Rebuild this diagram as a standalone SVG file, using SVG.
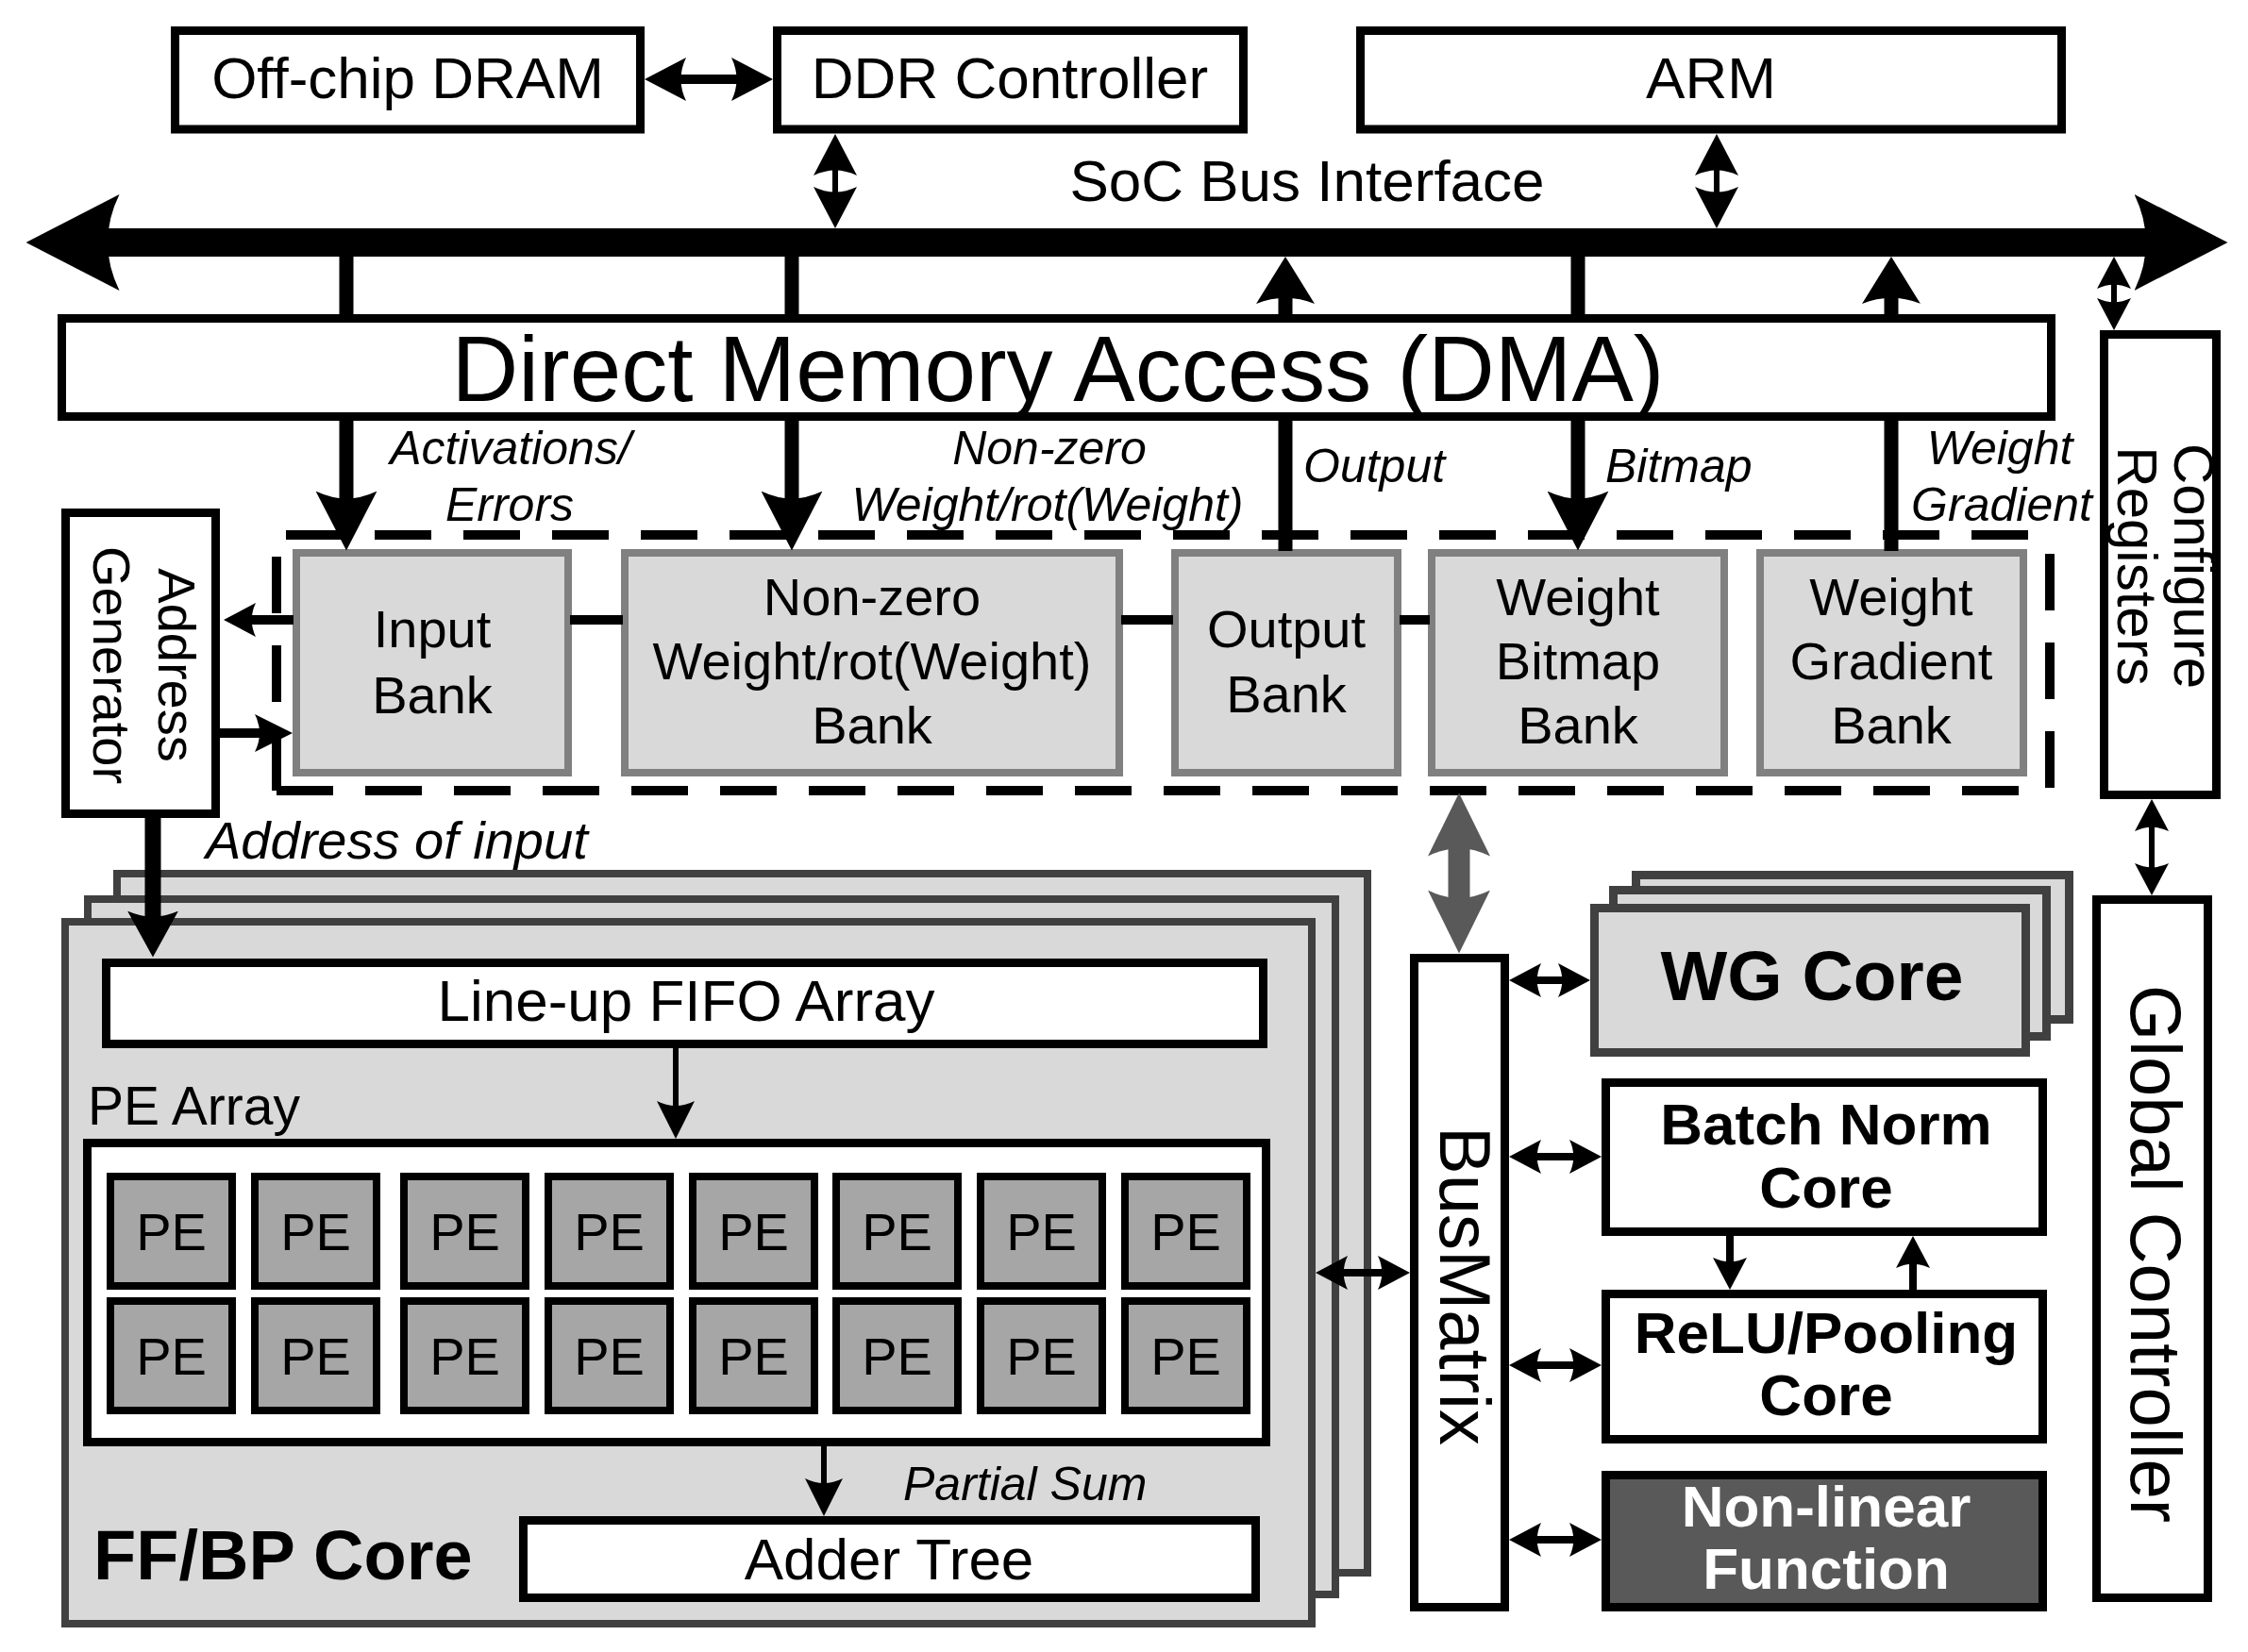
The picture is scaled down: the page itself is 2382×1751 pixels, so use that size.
<svg xmlns="http://www.w3.org/2000/svg" width="2382" height="1751" viewBox="0 0 2382 1751">
<style>
text{font-family:"Liberation Sans",Arial,sans-serif;fill:#000}
.t62{font-size:62px;text-anchor:middle}
.t56{font-size:56px;text-anchor:middle}
.lab{font-size:50px;font-style:italic}
.bold{font-weight:bold}
.box{fill:#fff;stroke:#000;stroke-width:9}
.bank{fill:#d9d9d9;stroke:#808080;stroke-width:8}
.stack{fill:#d9d9d9;stroke:#404040;stroke-width:8}
.pe{fill:#a6a6a6;stroke:#000;stroke-width:8}
.ln{stroke:#000;fill:none}
.dash{stroke:#000;stroke-width:10;fill:none;stroke-dasharray:60 34}
</style>
<defs>
<marker id="mBus" viewBox="0 0 10 10" refX="5" refY="5" markerUnits="userSpaceOnUse" markerWidth="99" markerHeight="102" preserveAspectRatio="none" orient="auto-start-reverse"><path d="M0,0 L10,5 L0,10 Q2.5,5 0,0 Z" fill="#000"/></marker>
<marker id="mA" viewBox="0 0 10 10" refX="5" refY="5" markerUnits="userSpaceOnUse" markerWidth="63" markerHeight="65" preserveAspectRatio="none" orient="auto-start-reverse"><path d="M0,0 L10,5 L0,10 Q2.5,5 0,0 Z" fill="#000"/></marker>
<marker id="mA2" viewBox="0 0 10 10" refX="5" refY="5" markerUnits="userSpaceOnUse" markerWidth="50" markerHeight="62" preserveAspectRatio="none" orient="auto-start-reverse"><path d="M0,0 L10,5 L0,10 Q2.5,5 0,0 Z" fill="#000"/></marker>
<marker id="mB" viewBox="0 0 10 10" refX="5" refY="5" markerUnits="userSpaceOnUse" markerWidth="44" markerHeight="46" preserveAspectRatio="none" orient="auto-start-reverse"><path d="M0,0 L10,5 L0,10 Q2.5,5 0,0 Z" fill="#000"/></marker>
<marker id="mD" viewBox="0 0 10 10" refX="5" refY="5" markerUnits="userSpaceOnUse" markerWidth="34" markerHeight="36" preserveAspectRatio="none" orient="auto-start-reverse"><path d="M0,0 L10,5 L0,10 Q2.5,5 0,0 Z" fill="#000"/></marker>
<marker id="mE" viewBox="0 0 10 10" refX="5" refY="5" markerUnits="userSpaceOnUse" markerWidth="49" markerHeight="54" preserveAspectRatio="none" orient="auto-start-reverse"><path d="M0,0 L10,5 L0,10 Q2.5,5 0,0 Z" fill="#000"/></marker>
<marker id="mF" viewBox="0 0 10 10" refX="5" refY="5" markerUnits="userSpaceOnUse" markerWidth="40" markerHeight="40" preserveAspectRatio="none" orient="auto-start-reverse"><path d="M0,0 L10,5 L0,10 Q2.5,5 0,0 Z" fill="#000"/></marker>
<marker id="mG" viewBox="0 0 10 10" refX="5" refY="5" markerUnits="userSpaceOnUse" markerWidth="67" markerHeight="66" preserveAspectRatio="none" orient="auto-start-reverse"><path d="M0,0 L10,5 L0,10 Q2.5,5 0,0 Z" fill="#595959"/></marker>
</defs>
<rect width="2382" height="1751" fill="#fff"/>

<g id="dram"><rect class="box" x="185.5" y="32.5" width="493" height="104.5"/><text class="t62" x="432" y="104">Off-chip DRAM</text></g>
<g id="ddr"><rect class="box" x="823.5" y="32.5" width="494" height="104.5"/><text class="t62" x="1070" y="104">DDR Controller</text></g>
<g id="arm"><rect class="box" x="1441.5" y="32.5" width="743" height="104.5"/><text class="t62" x="1813" y="104">ARM</text></g>
<g id="soc-bus"><text class="t62" x="1385" y="213">SoC Bus Interface</text></g>
<g id="dma"><rect class="box" x="65.5" y="337.5" width="2108" height="104"/><text x="1121" y="425" style="font-size:98px;text-anchor:middle">Direct Memory Access (DMA)</text></g>

<g id="labels">
<text class="lab" x="541" y="492" text-anchor="middle">Activations/</text>
<text class="lab" x="540" y="552" text-anchor="middle">Errors</text>
<text class="lab" x="1112" y="492" text-anchor="middle">Non-zero</text>
<text class="lab" x="1110" y="552" text-anchor="middle">Weight/rot(Weight)</text>
<text class="lab" x="1381" y="511">Output</text>
<text class="lab" x="1701" y="511">Bitmap</text>
<text class="lab" x="2119" y="492" text-anchor="middle">Weight</text>
<text class="lab" x="2121" y="552" text-anchor="middle">Gradient</text>
<text x="218" y="910" style="font-size:56px;font-style:italic">Address of input</text>
</g>

<g id="addr-gen"><rect class="box" x="69.5" y="543.5" width="159" height="319"/>
<g transform="translate(149,705) rotate(90)" style="font-size:56px;text-anchor:middle"><text x="0" y="-19">Address</text><text x="0" y="50">Generator</text></g></g>

<g id="buffer-banks">
<path class="dash" d="M303,567 H2160"/>
<path class="dash" d="M2172,587 V838"/>
<path class="dash" d="M293,838 H2150"/>
<path class="dash" d="M293,838 V586"/>
</g>
<g id="input-bank"><rect class="bank" x="314" y="586" width="288" height="233"/><text class="t56" x="458" y="686">Input</text><text class="t56" x="458" y="756">Bank</text></g>
<g id="weight-bank"><rect class="bank" x="662" y="586" width="524" height="233"/><text class="t56" x="924" y="652">Non-zero</text><text class="t56" x="924" y="720">Weight/rot(Weight)</text><text class="t56" x="924" y="788">Bank</text></g>
<g id="output-bank"><rect class="bank" x="1245" y="586" width="236" height="233"/><text class="t56" x="1363" y="686">Output</text><text class="t56" x="1363" y="755">Bank</text></g>
<g id="bitmap-bank"><rect class="bank" x="1517" y="586" width="310" height="233"/><text class="t56" x="1672" y="652">Weight</text><text class="t56" x="1672" y="720">Bitmap</text><text class="t56" x="1672" y="788">Bank</text></g>
<g id="gradient-bank"><rect class="bank" x="1865" y="586" width="279" height="233"/><text class="t56" x="2004" y="652">Weight</text><text class="t56" x="2004" y="720">Gradient</text><text class="t56" x="2004" y="788">Bank</text></g>

<g id="config-regs"><rect class="box" x="2229.5" y="354.5" width="119" height="488"/>
<g transform="translate(2289,600) rotate(90)" style="font-size:60px;text-anchor:middle"><text x="0" y="-15">Configure</text><text x="0" y="45">Registers</text></g></g>

<g id="ffbp-core">
<rect class="stack" x="124" y="926" width="1325" height="741"/>
<rect class="stack" x="93" y="953" width="1322" height="737"/>
<rect class="stack" x="69" y="977" width="1321" height="744"/>
<rect class="box" x="112.5" y="1020.5" width="1226" height="86"/>
<text class="t62" x="727" y="1082">Line-up FIFO Array</text>
<text x="93" y="1192" style="font-size:57px">PE Array</text>
<rect class="box" x="92.5" y="1211.5" width="1249" height="317"/>
<rect class="box" x="554.5" y="1611.5" width="776" height="82"/>
<text class="t62" x="942" y="1674">Adder Tree</text>
<text class="bold" x="99" y="1674" style="font-size:74px">FF/BP Core</text>
<text x="957" y="1590" style="font-size:50px;font-style:italic">Partial Sum</text>
</g>
<g id="pe-array">
<g id="pe-r1">
<rect class="pe" x="117" y="1247" width="129" height="116"/><text class="t56" x="181.5" y="1325">PE</text>
<rect class="pe" x="270" y="1247" width="129" height="116"/><text class="t56" x="334.5" y="1325">PE</text>
<rect class="pe" x="428" y="1247" width="129" height="116"/><text class="t56" x="492.5" y="1325">PE</text>
<rect class="pe" x="581" y="1247" width="129" height="116"/><text class="t56" x="645.5" y="1325">PE</text>
<rect class="pe" x="734" y="1247" width="129" height="116"/><text class="t56" x="798.5" y="1325">PE</text>
<rect class="pe" x="886" y="1247" width="129" height="116"/><text class="t56" x="950.5" y="1325">PE</text>
<rect class="pe" x="1039" y="1247" width="129" height="116"/><text class="t56" x="1103.5" y="1325">PE</text>
<rect class="pe" x="1192" y="1247" width="129" height="116"/><text class="t56" x="1256.5" y="1325">PE</text>
</g>
<g id="pe-r2">
<rect class="pe" x="117" y="1379" width="129" height="116"/><text class="t56" x="181.5" y="1457">PE</text>
<rect class="pe" x="270" y="1379" width="129" height="116"/><text class="t56" x="334.5" y="1457">PE</text>
<rect class="pe" x="428" y="1379" width="129" height="116"/><text class="t56" x="492.5" y="1457">PE</text>
<rect class="pe" x="581" y="1379" width="129" height="116"/><text class="t56" x="645.5" y="1457">PE</text>
<rect class="pe" x="734" y="1379" width="129" height="116"/><text class="t56" x="798.5" y="1457">PE</text>
<rect class="pe" x="886" y="1379" width="129" height="116"/><text class="t56" x="950.5" y="1457">PE</text>
<rect class="pe" x="1039" y="1379" width="129" height="116"/><text class="t56" x="1103.5" y="1457">PE</text>
<rect class="pe" x="1192" y="1379" width="129" height="116"/><text class="t56" x="1256.5" y="1457">PE</text>
</g>
</g>

<g id="busmatrix"><rect class="box" x="1498.5" y="1015.5" width="96" height="688"/>
<text transform="translate(1526,1363) rotate(90)" x="0" y="0" style="font-size:76px;text-anchor:middle">BusMatrix</text></g>

<g id="wg-core">
<rect class="stack" x="1733.5" y="927.5" width="459" height="153" style="stroke-width:9"/>
<rect class="stack" x="1709.5" y="943.5" width="459" height="155" style="stroke-width:9"/>
<rect class="stack" x="1689.5" y="962.5" width="457" height="153" style="stroke-width:9"/>
<text class="bold" x="1920" y="1060" style="font-size:75px;text-anchor:middle">WG Core</text>
</g>
<g id="bn-core"><rect class="box" x="1701.5" y="1147.5" width="463" height="158"/><text class="t62 bold" x="1935" y="1213">Batch Norm</text><text class="t62 bold" x="1935" y="1280">Core</text></g>
<g id="relu-core"><rect class="box" x="1701.5" y="1371.5" width="463" height="154"/><text class="t62 bold" x="1935" y="1434">ReLU/Pooling</text><text class="t62 bold" x="1935" y="1500">Core</text></g>
<g id="nonlinear"><rect class="box" x="1701.5" y="1563.5" width="463" height="140" style="fill:#595959"/><text class="t62 bold" x="1935" y="1618" style="fill:#fff">Non-linear</text><text class="t62 bold" x="1935" y="1684" style="fill:#fff">Function</text></g>

<g id="global-ctrl"><rect class="box" x="2221.5" y="953.5" width="118" height="740"/>
<text transform="translate(2258,1329) rotate(90)" x="0" y="0" style="font-size:76px;text-anchor:middle">Global Controller</text></g>

<g id="connectors">
<line class="ln" x1="77" y1="257" x2="2311" y2="257" stroke-width="30" marker-start="url(#mBus)" marker-end="url(#mBus)"/>
<line class="ln" x1="705" y1="84" x2="797" y2="84" stroke-width="10" marker-start="url(#mB)" marker-end="url(#mB)"/>
<line class="ln" x1="885" y1="164" x2="885" y2="220" stroke-width="6" marker-start="url(#mB)" marker-end="url(#mB)"/>
<line class="ln" x1="1819" y1="164" x2="1819" y2="220" stroke-width="6" marker-start="url(#mB)" marker-end="url(#mB)"/>
<path class="ln" d="M367,266 V336 M839,266 V336 M1672,266 V336" stroke-width="15"/>
<line class="ln" x1="1362" y1="336" x2="1362" y2="297" stroke-width="15" marker-end="url(#mA2)"/>
<line class="ln" x1="2004" y1="336" x2="2004" y2="297" stroke-width="15" marker-end="url(#mA2)"/>
<line class="ln" x1="367" y1="443" x2="367" y2="552" stroke-width="15" marker-end="url(#mA)"/>
<line class="ln" x1="839" y1="443" x2="839" y2="552" stroke-width="15" marker-end="url(#mA)"/>
<line class="ln" x1="1672" y1="443" x2="1672" y2="552" stroke-width="15" marker-end="url(#mA)"/>
<path class="ln" d="M1362,443 V584 M2004,443 V584" stroke-width="15"/>
<path class="ln" d="M604,657 H660 M1188,657 H1243 M1483,657 H1515" stroke-width="10"/>
<line class="ln" x1="311" y1="657" x2="254" y2="657" stroke-width="10" marker-end="url(#mD)"/>
<line class="ln" x1="231" y1="777" x2="290" y2="777" stroke-width="10" marker-end="url(#mF)"/>
<line class="ln" x1="162" y1="864" x2="162" y2="990" stroke-width="17" marker-end="url(#mE)"/>
<line class="ln" x1="716" y1="1109" x2="716" y2="1187" stroke-width="6" marker-end="url(#mF)"/>
<line class="ln" x1="873" y1="1531" x2="873" y2="1587" stroke-width="6" marker-end="url(#mF)"/>
<line class="ln" x1="1411" y1="1349" x2="1477" y2="1349" stroke-width="8" marker-start="url(#mD)" marker-end="url(#mD)"/>
<line class="ln" x1="1616" y1="1039" x2="1668" y2="1039" stroke-width="8" marker-start="url(#mD)" marker-end="url(#mD)"/>
<line class="ln" x1="1616" y1="1226" x2="1680" y2="1226" stroke-width="8" marker-start="url(#mD)" marker-end="url(#mD)"/>
<line class="ln" x1="1616" y1="1447" x2="1680" y2="1447" stroke-width="8" marker-start="url(#mD)" marker-end="url(#mD)"/>
<line class="ln" x1="1616" y1="1632" x2="1680" y2="1632" stroke-width="8" marker-start="url(#mD)" marker-end="url(#mD)"/>
<line class="ln" x1="1833" y1="1308" x2="1833" y2="1350" stroke-width="8" marker-end="url(#mD)"/>
<line class="ln" x1="2027" y1="1369" x2="2027" y2="1327" stroke-width="8" marker-end="url(#mD)"/>
<line x1="1546" y1="874" x2="1546" y2="977" stroke="#595959" stroke-width="23" marker-start="url(#mG)" marker-end="url(#mG)"/>
<line class="ln" x1="2240" y1="289" x2="2240" y2="333" stroke-width="6" marker-start="url(#mD)" marker-end="url(#mD)"/>
<line class="ln" x1="2280" y1="864" x2="2280" y2="932" stroke-width="6" marker-start="url(#mD)" marker-end="url(#mD)"/>
</g>
</svg>
